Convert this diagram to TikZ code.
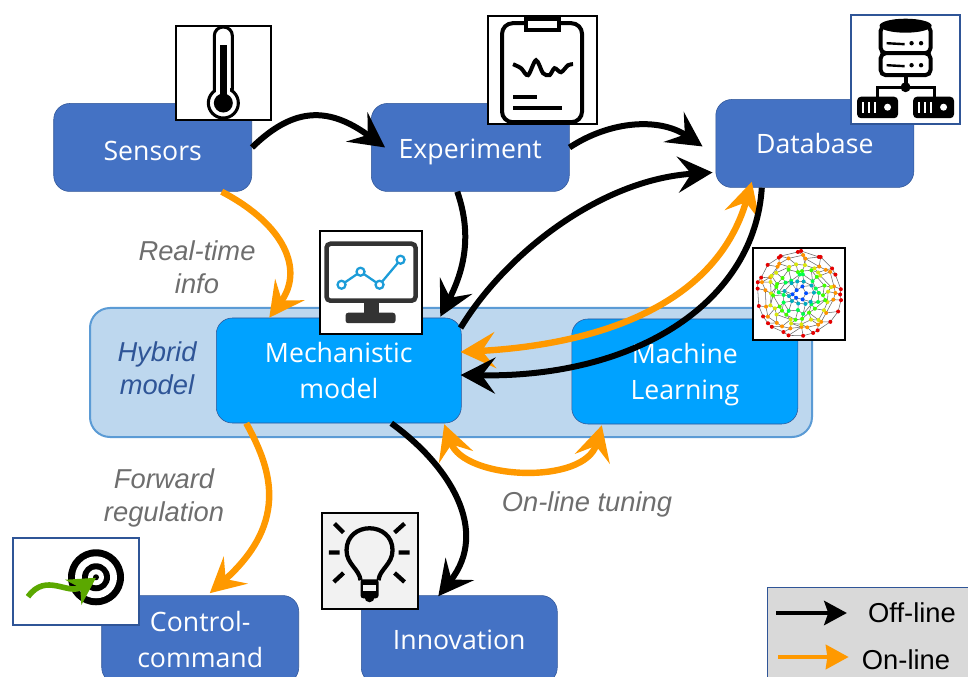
\documentclass[tikz,border=0pt]{standalone}
\usepackage{fontspec}
\setmainfont{Open Sans}
\newfontfamily\arialfont{Liberation Sans}
\usepackage{tikz}
\usetikzlibrary{arrows.meta}
\usetikzlibrary{shapes, positioning, calc}
\definecolor{boxblue}{HTML}{4472C4}
\definecolor{modelblue}{HTML}{00A2FF}
\definecolor{bandblue}{HTML}{BDD7EE}
\definecolor{bandline}{HTML}{5B9BD5}
\definecolor{darkline}{HTML}{2F5597}
\definecolor{online}{HTML}{FF9900}
\definecolor{notegray}{HTML}{6E6E6E}
\definecolor{legendgray}{HTML}{D9D9D9}
\definecolor{chartblue}{HTML}{1C9CD8}
\definecolor{arrowgreen}{HTML}{5BA800}

\begin{document}
\begin{tikzpicture}[x=0.75pt,y=-0.75pt,>={Stealth[length=26pt,width=27pt,inset=10pt]},
  blue node/.style={rectangle, rounded corners=12pt, draw=darkline, fill=boxblue, text=white, align=center,
    minimum width=148.5pt, minimum height=66pt, inner sep=0pt, font=\fontsize{20}{27}\selectfont},
  model node/.style={blue node, fill=modelblue},
  icon node/.style={rectangle, draw, fill=white, line width=1.5pt, inner sep=0pt},
  note node/.style={align=center, inner sep=0pt, text=notegray, font=\arialfont\itshape\fontsize{20.5}{25}\selectfont},
  legend node/.style={inner sep=0pt, font=\arialfont\fontsize{20.5}{25}\selectfont},
  off line/.style={->, line width=4.5pt, black},
  on line/.style={->, line width=4.8pt, online},
  off key/.style={-{Stealth[length=17pt,width=18pt,inset=3pt]}, line width=3.6pt, black},
  on key/.style={-{Stealth[length=17pt,width=18pt,inset=1pt]}, line width=3.6pt, online}]
  \clip (0,0) rectangle (968,677);

  \node[rectangle, rounded corners=15pt, draw=bandline, fill=bandblue, line width=1.5pt,
    minimum width=541.5pt, minimum height=96.75pt] (hybrid) at (451,372.5) {};
  \node[model node, minimum width=183.75pt, minimum height=78.75pt, right=95.25pt of hybrid.west, yshift=1.5pt] (mech) {Mechanistic\\model};
  \node[model node, minimum width=169.5pt, minimum height=78.75pt, right=82.5pt of mech, yshift=-0.75pt] (ml) {\rule{0pt}{19.5pt}Machine\\Learning};
  \node[blue node, text height=19.5pt, above left=94.5pt and -27pt of mech] (sensors) {Sensors};
  \node[blue node, text height=21.4pt, right=89.25pt of sensors] (experiment) {Experiment};
  \node[blue node, right=109.5pt of experiment, yshift=3pt] (database) {Database};
  \node[blue node, minimum width=147.75pt, below left=129pt and -62.25pt of mech] (control) {Control-\\command};
  \node[blue node, minimum width=147pt, right=46.5pt of control] (innovation) {Innovation};

  \node[note node, text=darkline] (hybridnote) at (157,368) {Hybrid\\model};
  \node[note node] (realtime) at (197,267) {Real-time\\info};
  \node[note node] (forward) at (164,498) {Forward\\regulation};
  \node[note node] (tuning) at (587,504) {On-line tuning};

  % icons
  \node[icon node, minimum width=71pt, minimum height=70.5pt, above right=-13pt and -57.75pt of sensors] (thermo) {};
  \node[icon node, minimum width=81.75pt, minimum height=81pt, above right=-16.5pt and -62.25pt of experiment] (clipboard) {};
  \node[icon node, draw=darkline, minimum width=81.75pt, minimum height=81.75pt, above right=-19.5pt and -48pt of database] (server) {};
  \node[icon node, minimum width=76.5pt, minimum height=77.25pt, above right=-12.75pt and -107.25pt of mech] (monitor) {};
  \node[icon node, minimum width=69pt, minimum height=69pt, above right=-16.5pt and -34.5pt of ml] (network) {};
  \node[icon node, fill=black!5, minimum width=72pt, minimum height=72pt, above right=-11.25pt and -177.75pt of innovation] (bulb) {};
  \node[icon node, draw=darkline, minimum width=94.5pt, minimum height=65.25pt, above right=-23.25pt and -215.25pt of control] (target) {};

  \begin{scope}[shift={(thermo.center)},line width=2.3pt]
    \draw[fill=white, rounded corners=6.5pt] (-9,-45.5) rectangle (9,25);
    \draw[fill=white] (0,30.5) circle (15);
    \fill[white] (-7,8) rectangle (7,25);
    \fill (0,30.5) circle (9.5);
    \fill (-3.2,-28) rectangle (3.2,30);
  \end{scope}

  \begin{scope}[shift={(clipboard.center)},line width=3pt]
    \draw[rounded corners=8pt] (-40,-47) rectangle (40,52);
    \draw[fill=white, line width=3.4pt] (-16,-51) rectangle (17,-40);
    \draw plot[smooth] coordinates {(-29,-6) (-21,-2) (-14,5) (-6,-10) (1,3) (7.5,5) (12.5,-2) (19,2) (26,-5) (31,-6)};
    \draw (-29,27) -- (-5,27) (-29,38) -- (20,38);
  \end{scope}

  \begin{scope}[shift={(server.center)},line width=3pt]
    \draw[fill=white, rounded corners=4pt] (-25,-44) rectangle (25,-16.5);
    \draw[fill=white, rounded corners=4pt] (-25,-16.5) rectangle (25,5.5);
    \fill (0,-44) ellipse (26 and 7);
    \draw (0,5.5) -- (0,17.5);
    \draw[line width=2.2pt] (-28,27) -- (-28,17.5) -- (29,17.5) -- (29,27);
    \fill (0,17.5) circle (5);
    \foreach \rowy in {-26.5,-4.5}{
      \draw[line width=1.8pt] (-19,\rowy) -- (-1,\rowy+1);
      \fill (6,\rowy) circle (2.2) (15.5,\rowy) circle (2.2);
    }
    \foreach \boxx in {-28,28}{
      \fill[rounded corners=3pt] (\boxx-20.5,27) rectangle (\boxx+20.5,48.5);
      \foreach \tick in {-15,-9,-3}
        \fill[white] (\boxx+\tick-1,32) rectangle (\boxx+\tick+1,43);
      \fill[white] (\boxx+10,37.5) circle (3.5);
    }
  \end{scope}

  \begin{scope}[shift={(monitor.center)}]
    \draw[black!80, line width=3.4pt, rounded corners=3pt] (-44,-38.5) rectangle (45,18.5);
    \fill[black!80] (-7,18.5) rectangle (8,31);
    \fill[black!80, rounded corners=2pt] (-25,30.5) rectangle (25,41);
    \draw[chartblue, line width=1.7pt] (-29,2.5) -- (-10,-10.5) -- (9,2.5) -- (30,-22.5);
    \foreach \px/\py in {-29/2.5,-10/-10.5,9/2.5,30/-22.5}
      \draw[chartblue, fill=white, line width=1.7pt] (\px,\py) circle (4);
  \end{scope}

  \begin{scope}[shift={(network.center)}]
    \pgfmathsetseed{12}
    \foreach \ring/\rad/\wob/\num in {1/42/1/26,2/36/3/24,3/30/3/22,4/24/3/19,5/18/3/15,6/12/3/11,7/6/2/6}
      \foreach \k in {1,...,\num}{
        \pgfmathsetmacro{\ang}{\k*360/\num+rand*8}
        \pgfmathsetmacro{\dist}{\rad+rand*\wob}
        \coordinate (n\ring-\k) at (\ang:\dist);
      }
    \foreach \ring/\num/\nxt/\nnum in {1/26/2/24,2/24/3/22,3/22/4/19,4/19/5/15,5/15/6/11,6/11/7/6,7/6/7/6}
      \foreach \k in {1,...,\num}{
        \pgfmathtruncatemacro{\m}{mod(\k,\num)+1}
        \pgfmathtruncatemacro{\j}{max(1,round(\k*\nnum/\num))}
        \draw[black!60, line width=0.4pt] (n\ring-\k) -- (n\ring-\m) (n\ring-\k) -- (n\nxt-\j);
      }
    \foreach \ring/\num/\col in {1/26/red!90!black,2/24/orange!85!yellow,3/22/yellow!85!green,4/19/green!75!yellow,5/15/green!70!cyan,6/11/cyan!70!green,7/6/blue!70!cyan}
      \foreach \k in {1,...,\num}
        \fill[\col] (n\ring-\k) circle (2);
  \end{scope}

  \begin{scope}[shift={(bulb.center)},line width=3.2pt]
    \draw (-9,19) .. controls (-10,8) and (-23,3) .. (-23,-11) .. controls (-23,-25) and (-12,-33) .. (0,-33)
      .. controls (12,-33) and (23,-25) .. (23,-11) .. controls (23,3) and (10,8) .. (9,19);
    \fill[rounded corners=2pt] (-9,18) rectangle (9,37);
    \fill[black!5] (-6.5,24) rectangle (6.5,30);
    \fill (0,36) circle (5);
    \draw (-35,-37.7) -- (-26,-28.7) (25,-28.7) -- (35,-37.7) (-40.7,-8.7) -- (-30,-8.7)
      (29,-8.7) -- (40,-8.7) (-35.7,20.7) -- (-26,11.7) (25,11.7) -- (35,20.7);
  \end{scope}

  \begin{scope}[shift={(target.center)}]
    \fill (20,-4.5) circle (28);
    \fill[white] (20,-4.5) circle (21);
    \fill (20,-4.5) circle (14);
    \fill[white] (20,-4.5) circle (8);
    \fill (20,-4.5) circle (3);
    \draw[arrowgreen, line width=4.2pt, -{Stealth[length=20pt,width=22pt,inset=6pt]}]
      (-48,15) .. controls (-30,-10) and (-8,14) .. (20,-4);
  \end{scope}

  % connectors
  \draw[on line] ([shift={(69,0)}]sensors.south) .. controls +(63,33) and +(35,-48) .. ([shift={(-69.5,0)}]mech.north);
  \draw[on line] ([shift={(-92.5,0)}]mech.south) .. controls +(23,42) and +(82,-73) .. ([shift={(9.5,-2)}]control.north);
  \draw[on line,<->] ([shift={(105.5,1)}]mech.south) .. controls +(20,56) and +(-17,60) .. ([shift={(-83,1)}]ml.south);
  \draw[on line,<->] ([shift={(-1,-18.5)}]mech.east) .. controls +(129,-7) and +(-37,128) .. ([shift={(-63,-6)}]database.south);

  \draw[off line] (sensors.east) .. controls +(43,-42) and +(-55,-40) .. ([shift={(14,0)}]experiment.west);
  \draw[off line] (experiment.east) .. controls +(41,-27) and +(-43,-29) .. ([shift={(-13,3)}]database.west);
  \draw[off line] ([shift={(-13,0)}]experiment.south) .. controls +(15,43) and +(24,-47) .. ([shift={(101.5,-1)}]mech.north);
  \draw[off line] ([shift={(-1,-42.5)}]mech.east) .. controls +(44,-73) and +(-113,7) .. ([shift={(-3,29)}]database.west);
  \draw[off line] ([shift={(-53,0)}]database.south) .. controls +(-7,112) and +(179,3) .. ([shift={(-1,4.5)}]mech.east);
  \draw[off line] ([shift={(52.5,0)}]mech.south) .. controls +(58,42) and +(52,-66) .. ([shift={(-21,1)}]innovation.north);

  % legend
  \node[rectangle, draw=darkline, fill=legendgray, line width=1pt, anchor=north west,
    minimum width=180pt, minimum height=90pt] (legend) at (767,587) {};
  \node[legend node] (offkey) at (912,613) {Off-line};
  \node[legend node] (onkey) at (906,660) {On-line};
  \coordinate (offstart) at (776,613);
  \coordinate (onstart) at (778,657);
  \draw[off key] (offstart) -- ([shift={(-21,0)}]offkey.west);
  \draw[on key] (onstart) -- ([shift={(-13,-3)}]onkey.west);
\end{tikzpicture}
\end{document}
